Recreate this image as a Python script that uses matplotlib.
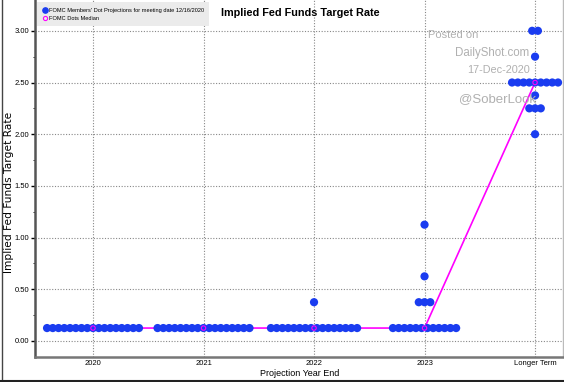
import matplotlib
matplotlib.use("Agg")
import matplotlib.pyplot as plt
from matplotlib.lines import Line2D
import numpy as np

# ---- data ----
categories = ["2020", "2021", "2022", "2023", "Longer Term"]
# dot projections: (rate, number of participants) per projection year
dots_2020 = [(0.125, 17)]
dots_2021 = [(0.125, 17)]
dots_2022 = [(0.125, 16), (0.375, 1)]
dots_2023 = [(0.125, 12), (0.375, 3), (0.625, 1), (1.125, 1)]
dots_lt = [(2.0, 1), (2.25, 3), (2.375, 1), (2.5, 9), (2.75, 1), (3.0, 2)]
all_dots = [dots_2020, dots_2021, dots_2022, dots_2023, dots_lt]
median_values = [0.125, 0.125, 0.125, 0.125, 2.5]
y_ticks = [0.0, 0.5, 1.0, 1.5, 2.0, 2.5, 3.0]

lib = "Liberation Sans"
blue = "#1a3cf0"
magenta = "#ff00ff"
spacing = 0.052

fig = plt.figure(figsize=(5.64, 3.82), dpi=100)
ax = fig.add_axes([35 / 564, 25 / 382, 528 / 564, 357 / 382])

xs, ys = [], []
for i, groups in enumerate(all_dots):
    for rate, n in groups:
        offs = (np.arange(n) - (n - 1) / 2) * spacing
        xs.extend(i + offs)
        ys.extend([rate] * n)
ax.scatter(xs, ys, s=35, color=blue, edgecolors="none", zorder=3)

xi = np.arange(len(categories))
ax.plot(xi, median_values, color=magenta, lw=1.2, zorder=2)
ax.scatter(xi, median_values, s=10, facecolors="none", edgecolors=magenta,
           linewidths=0.8, zorder=4)

ax.set_xlim(-0.525, 4.253)
ax.set_ylim(-0.155, 3.298)
ax.set_xticks(xi)
ax.set_xticklabels(categories, fontsize=5.5, family=lib)
ax.set_yticks(y_ticks)
ax.set_yticklabels([f"{v:.2f}" for v in y_ticks], fontsize=5.5, family=lib)
ax.set_yticks(np.arange(0, 3.01, 0.25), minor=True)
ax.tick_params(axis="y", which="major", length=3, width=1, color="black", pad=1)
ax.tick_params(axis="y", which="minor", length=1.5, width=0.6, color="black")
ax.tick_params(axis="x", length=0, pad=2)
ax.grid(True, which="major", linestyle=(0, (1, 1.5)), color="#888888", lw=0.8)

ax.spines["top"].set_visible(False)
ax.spines["right"].set_color("#bbbbbb")
ax.spines["right"].set_linewidth(1)
ax.spines["left"].set_color("#555555")
ax.spines["left"].set_linewidth(1.8)
ax.spines["bottom"].set_color("#777777")
ax.spines["bottom"].set_linewidth(1.8)

handles = [
    Line2D([], [], marker="o", ls="none", color=blue, markersize=3.8),
    Line2D([], [], marker="o", ls="none", markerfacecolor="none",
           markeredgecolor=magenta, markersize=3.0, markeredgewidth=0.8),
]
leg = ax.legend(handles, ["FOMC Members' Dot Projections for meeting date 12/16/2020",
                          "FOMC Dots Median"],
                loc="upper left", bbox_to_anchor=(0.003, 0.993),
                prop={"family": lib, "size": 4.1},
                frameon=True, facecolor="#ebebeb", edgecolor="none", framealpha=1,
                handletextpad=0.3, borderpad=0.95, labelspacing=0.5,
                handlelength=0.9, borderaxespad=0.0, fancybox=False)
leg.set_zorder(5)

fig.text(300 / 564, 1 - 13 / 382, "Implied Fed Funds Target Rate",
         ha="center", va="center", fontsize=7.8, fontweight="bold", family=lib)
fig.text(9 / 564, 1 - 192 / 382, "Implied Fed Funds Target Rate", rotation=90,
         ha="center", va="center", fontsize=7.7)
fig.text(300 / 564, 1 - 373 / 382, "Projection Year End", ha="center",
         va="center", fontsize=6.5, family=lib)

wm = dict(color="#b0b0b0", family=lib, zorder=1)
fig.text(428 / 564, 1 - 35 / 382, "Posted on", ha="left", va="center", fontsize=8, **wm)
fig.text(455 / 564, 1 - 53 / 382, "DailyShot.com", ha="left", va="center", fontsize=8.3, **wm)
fig.text(530 / 564, 1 - 70 / 382, "17-Dec-2020", ha="right", va="center", fontsize=7.8, **wm)
fig.text(459 / 564, 1 - 99 / 382, "@SoberLook", ha="left", va="center", fontsize=9.5, **wm)

# figure frame
fig.add_artist(Line2D([1.5 / 564, 1.5 / 564], [1.5 / 382, 1], color="#444444", lw=1,
                      transform=fig.transFigure))
fig.add_artist(Line2D([0, 1], [1.5 / 382, 1.5 / 382], color="#222222", lw=1.5,
                      transform=fig.transFigure))

fig.savefig("out.png", dpi=100)
